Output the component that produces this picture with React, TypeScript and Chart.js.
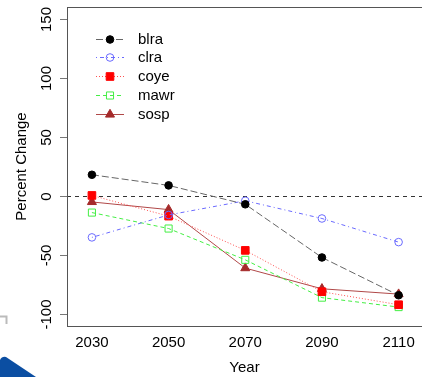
import React, { useEffect, useRef } from "react";
import { Chart, registerables } from "chart.js";

Chart.register(...registerables);

const years = [2030, 2050, 2070, 2090, 2110];
const blra = [18, 9, -7, -52, -84];
const clra = [-35, -16, -4, -19, -39];
const coye = [0.5, -17, -46, -81, -92];
const mawr = [-14, -27.5, -54, -86, -94];
const sosp = [-5, -11.5, -61, -78.5, -83];
const seriesNames = ["blra", "clra", "coye", "mawr", "sosp"];
const yTicks = [-100, -50, 0, 50, 100, 150];
const xTitle = "Year";
const yTitle = "Percent Change";

const FONT = "'Liberation Sans', Arial, sans-serif";

type Style = {
  line: string;
  point: string;
  fill: string;
  dash: number[];
  shape: "circle" | "rect" | "triangle";
  r: number;
};

const styles: Style[] = [
  { line: "#666666", point: "#000000", fill: "#000000", dash: [7, 3], shape: "circle", r: 3.8 },
  { line: "#6a6aff", point: "#6a6aff", fill: "rgba(0,0,0,0)", dash: [1, 3, 4, 3], shape: "circle", r: 3.8 },
  { line: "#ff5050", point: "#ff0000", fill: "#ff0000", dash: [1, 2], shape: "rect", r: 5.4 },
  { line: "#44ee44", point: "#44ee44", fill: "rgba(0,0,0,0)", dash: [4, 3], shape: "rect", r: 5 },
  { line: "#b04848", point: "#a52a2a", fill: "#a52a2a", dash: [], shape: "triangle", r: 5.2 },
];

const seriesValues = [blra, clra, coye, mawr, sosp];

function drawMarker(ctx: CanvasRenderingContext2D, s: Style, x: number, y: number) {
  ctx.save();
  ctx.setLineDash([]);
  ctx.lineWidth = 1;
  ctx.strokeStyle = s.point;
  ctx.fillStyle = s.fill;
  ctx.beginPath();
  if (s.shape === "circle") {
    ctx.arc(x, y, s.r, 0, Math.PI * 2);
  } else if (s.shape === "rect") {
    const h = s.r * Math.SQRT1_2;
    ctx.rect(x - h, y - h, 2 * h, 2 * h);
  } else {
    let a = 0;
    ctx.moveTo(x + Math.sin(a) * s.r, y - Math.cos(a) * s.r);
    a += (2 * Math.PI) / 3;
    ctx.lineTo(x + Math.sin(a) * s.r, y - Math.cos(a) * s.r);
    a += (2 * Math.PI) / 3;
    ctx.lineTo(x + Math.sin(a) * s.r, y - Math.cos(a) * s.r);
    ctx.closePath();
  }
  ctx.fill();
  ctx.stroke();
  ctx.restore();
}

const rPlugin = {
  id: "rstyle",
  beforeDatasetsDraw(chart: any) {
    const { ctx, chartArea: a, scales } = chart;
    const y0 = Math.round(scales.y.getPixelForValue(0)) + 0.5;
    ctx.save();
    ctx.strokeStyle = "#333333";
    ctx.lineWidth = 1;
    ctx.setLineDash([4, 4]);
    ctx.beginPath();
    ctx.moveTo(a.left, y0);
    ctx.lineTo(a.right, y0);
    ctx.stroke();
    ctx.restore();
  },
  afterDraw(chart: any) {
    const { ctx, chartArea: a, scales } = chart;
    const ys = scales.y;
    const xs = scales.x;
    ctx.save();
    // box
    ctx.strokeStyle = "#555555";
    ctx.lineWidth = 1;
    ctx.setLineDash([]);
    ctx.strokeRect(Math.round(a.left) + 0.5, Math.round(a.top) + 0.5, Math.round(a.right - a.left), Math.round(a.bottom - a.top));
    // y tick marks + rotated labels
    ctx.strokeStyle = "#777777";
    ctx.fillStyle = "#000000";
    ctx.font = `15px ${FONT}`;
    ctx.textAlign = "center";
    ctx.textBaseline = "middle";
    for (const t of ys.ticks) {
      const py = Math.round(ys.getPixelForValue(t.value)) + 0.5;
      ctx.beginPath();
      ctx.moveTo(a.left - 7, py);
      ctx.lineTo(a.left, py);
      ctx.stroke();
      ctx.save();
      ctx.translate(a.left - 20, py);
      ctx.rotate(-Math.PI / 2);
      ctx.fillText(String(t.value), 0, 0);
      ctx.restore();
    }
    // x tick labels
    for (const t of xs.ticks) {
      const px = xs.getPixelForValue(t.value);
      ctx.fillText(String(t.value), px, a.bottom + 17);
    }
    // legend
    const lx0 = a.left + 29;
    const lx1 = a.left + 57;
    const px = a.left + 43;
    const tx = a.left + 71;
    ctx.textAlign = "left";
    ctx.textBaseline = "middle";
    seriesNames.forEach((name, i) => {
      const s = styles[i];
      const ly = Math.round(a.top + 31.5 + i * 18.75) + 0.5;
      ctx.save();
      ctx.strokeStyle = s.line;
      ctx.lineWidth = 1;
      ctx.setLineDash(s.dash);
      ctx.beginPath();
      ctx.moveTo(lx0, ly);
      ctx.lineTo(lx1, ly);
      ctx.stroke();
      ctx.restore();
      drawMarker(ctx, s, px, ly);
      ctx.fillStyle = "#000000";
      ctx.fillText(name, tx, ly);
    });
    ctx.restore();
  },
};

export default function App() {
  const ref = useRef<HTMLCanvasElement>(null);
  useEffect(() => {
    if (!ref.current) return;
    const datasets = seriesNames.map((name, i) => {
      const s = styles[i];
      return {
        label: name,
        data: years.map((yr, j) => ({ x: yr, y: seriesValues[i][j] })),
        borderColor: s.line,
        borderWidth: 1,
        borderDash: s.dash,
        pointStyle: s.shape,
        pointRadius: s.r,
        pointHoverRadius: s.r,
        pointBorderColor: s.point,
        pointBackgroundColor: s.fill,
        pointBorderWidth: 1,
        fill: false,
        tension: 0,
      };
    });
    const chart = new Chart(ref.current, {
      type: "line",
      data: { datasets },
      plugins: [rPlugin],
      options: {
        animation: false,
        responsive: false,
        maintainAspectRatio: false,
        layout: { autoPadding: false, padding: { top: 7, right: 0, left: 0, bottom: 0 } },
        plugins: { legend: { display: false }, tooltip: { enabled: false } },
        scales: {
          x: {
            type: "linear",
            min: 2023.5,
            max: 2116.1,
            afterBuildTicks: (sc: any) => {
              sc.ticks = years.map((v) => ({ value: v }));
            },
            afterFit: (sc: any) => {
              sc.height = 51;
            },
            grid: { display: false, drawTicks: false },
            border: { display: false },
            ticks: { display: false },
            title: {
              display: true,
              text: xTitle,
              color: "#000000",
              font: { family: FONT, size: 15 },
              padding: 0,
            },
          },
          y: {
            type: "linear",
            min: -110,
            max: 160,
            afterBuildTicks: (sc: any) => {
              sc.ticks = yTicks.map((v) => ({ value: v }));
            },
            afterFit: (sc: any) => {
              sc.width = 67;
            },
            grid: { display: false, drawTicks: false },
            border: { display: false },
            ticks: { display: false },
            title: {
              display: true,
              text: yTitle,
              color: "#000000",
              font: { family: FONT, size: 15 },
              padding: 13,
            },
          },
        },
      },
    });
    return () => chart.destroy();
  }, []);

  return (
    <div style={{ position: "fixed", left: 0, top: 0, width: 422, height: 377, background: "#ffffff", overflow: "hidden" }}>
      <canvas ref={ref} width={422} height={377} style={{ position: "absolute", left: 0, top: 0, width: 422, height: 377 }} />
      <svg width={422} height={377} style={{ position: "absolute", left: 0, top: 0, pointerEvents: "none" }}>
        <path d="M0 316.5 L6.5 316.5 L6.5 324" fill="none" stroke="#bbbbbb" strokeWidth={2} />
        <path d="M0 360 Q2 356 6 357 L36 377 L0 377 Z" fill="#0b4ea2" />
      </svg>
    </div>
  );
}
